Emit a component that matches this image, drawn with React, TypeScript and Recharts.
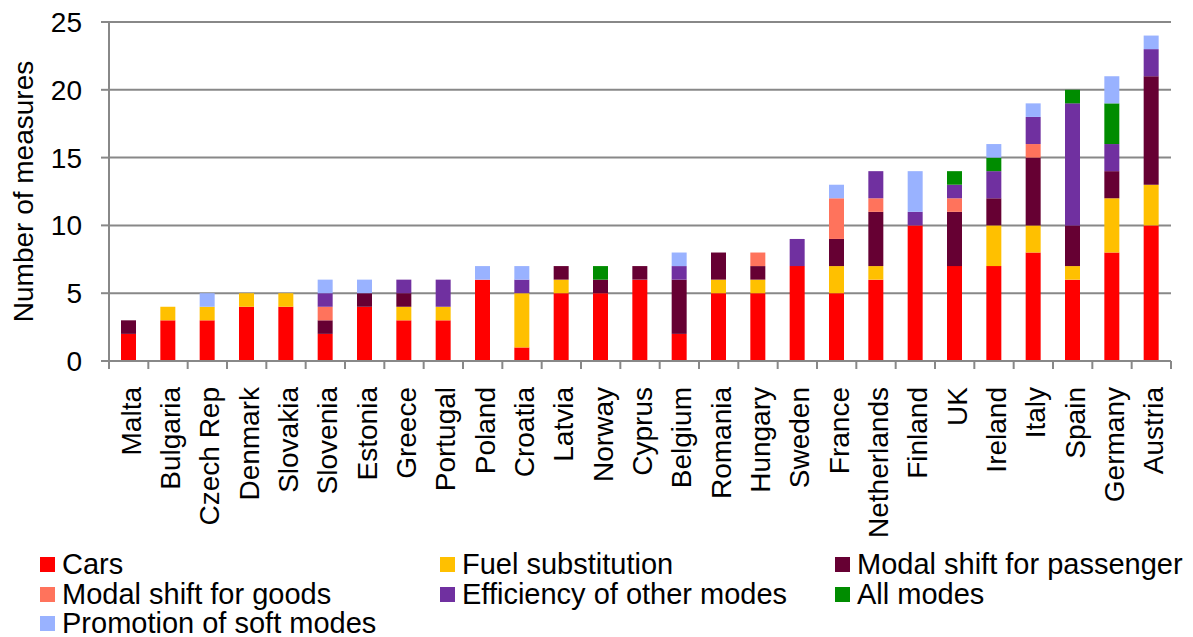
import React from 'react'
import { BarChart, Bar, XAxis, YAxis, CartesianGrid, Legend } from 'recharts'

const countries = [
  'Malta', 'Bulgaria', 'Czech Rep', 'Denmark', 'Slovakia', 'Slovenia', 'Estonia',
  'Greece', 'Portugal', 'Poland', 'Croatia', 'Latvia', 'Norway', 'Cyprus',
  'Belgium', 'Romania', 'Hungary', 'Sweden', 'France', 'Netherlands', 'Finland',
  'UK', 'Ireland', 'Italy', 'Spain', 'Germany', 'Austria',
]

const cars = [2, 3, 3, 4, 4, 2, 4, 3, 3, 6, 1, 5, 5, 6, 2, 5, 5, 7, 5, 6, 10, 7, 7, 8, 6, 8, 10]
const fuel = [0, 1, 1, 1, 1, 0, 0, 1, 1, 0, 4, 1, 0, 0, 0, 1, 1, 0, 2, 1, 0, 0, 3, 2, 1, 4, 3]
const passenger = [1, 0, 0, 0, 0, 1, 1, 1, 0, 0, 0, 1, 1, 1, 4, 2, 1, 0, 2, 4, 0, 4, 2, 5, 3, 2, 8]
const goods = [0, 0, 0, 0, 0, 1, 0, 0, 0, 0, 0, 0, 0, 0, 0, 0, 1, 0, 3, 1, 0, 1, 0, 1, 0, 0, 0]
const efficiency = [0, 0, 0, 0, 0, 1, 0, 1, 2, 0, 1, 0, 0, 0, 1, 0, 0, 2, 0, 2, 1, 1, 2, 2, 9, 2, 2]
const allModes = [0, 0, 0, 0, 0, 0, 0, 0, 0, 0, 0, 0, 1, 0, 0, 0, 0, 0, 0, 0, 0, 1, 1, 0, 1, 3, 0]
const soft = [0, 0, 1, 0, 0, 1, 1, 0, 0, 1, 1, 0, 0, 0, 1, 0, 0, 0, 1, 0, 3, 0, 1, 1, 0, 2, 1]

const yTicks = [0, 5, 10, 15, 20, 25]

const series = [
  { key: 'cars', name: 'Cars', values: cars, color: '#FF0000' },
  { key: 'fuel', name: 'Fuel substitution', values: fuel, color: '#FFC000' },
  { key: 'passenger', name: 'Modal shift for passenger', values: passenger, color: '#660033' },
  { key: 'goods', name: 'Modal shift for goods', values: goods, color: '#FF735C' },
  { key: 'efficiency', name: 'Efficiency of other modes', values: efficiency, color: '#7030A0' },
  { key: 'allModes', name: 'All modes', values: allModes, color: '#008C00' },
  { key: 'soft', name: 'Promotion of soft modes', values: soft, color: '#99B2FF' },
]

const data = countries.map((country, i) => {
  const row: Record<string, string | number> = { country }
  series.forEach(s => {
    row[s.key] = s.values[i]
  })
  return row
})

const W = 1193
const H = 637
const FONT = '"Liberation Sans", Arial, sans-serif'
const AXIS = '#888888'
const Y_AXIS_W = 109
const RIGHT = 22
const BAND = (W - Y_AXIS_W - RIGHT) / countries.length

const CountryTick = (props: any) => {
  const { x, y, payload, index } = props
  const last = index === countries.length - 1
  return (
    <g>
      <line x1={x - BAND / 2} x2={x - BAND / 2} y1={y} y2={y + 8} stroke={AXIS} strokeWidth={2} />
      {last && <line x1={x + BAND / 2} x2={x + BAND / 2} y1={y} y2={y + 8} stroke={AXIS} strokeWidth={2} />}
      <text
        transform={`translate(${x + 12},${y + 26}) rotate(-90)`}
        textAnchor="end"
        fontSize={28}
        fontFamily={FONT}
        fill="#000"
      >
        {payload.value}
      </text>
    </g>
  )
}

const LegendBox = () => (
  <div
    style={{
      height: 87,
      display: 'grid',
      gridTemplateColumns: '400px 395px 350px',
      paddingLeft: 40,
      fontFamily: FONT,
      fontSize: 29,
      lineHeight: '29.5px',
      color: '#000',
      boxSizing: 'border-box',
    }}
  >
    {series.map(s => (
      <div key={s.key} style={{ display: 'flex', alignItems: 'center', whiteSpace: 'nowrap' }}>
        <span style={{ display: 'inline-block', width: 15, height: 15, background: s.color, marginRight: 7 }} />
        <span>{s.name}</span>
      </div>
    ))}
  </div>
)

const App = () => {
  return (
    <div style={{ position: 'absolute', left: 0, top: 0, width: W, height: H, background: '#fff' }}>
      <BarChart
        width={W}
        height={H}
        data={data}
        margin={{ top: 22, right: RIGHT, left: 0, bottom: 0 }}
        barSize={15}
      >
        <CartesianGrid vertical={false} stroke={AXIS} strokeWidth={2} />
        <XAxis
          dataKey="country"
          interval={0}
          height={189}
          tickSize={0}
          tickMargin={0}
          tickLine={false}
          axisLine={{ stroke: AXIS, strokeWidth: 2 }}
          tick={<CountryTick />}
        />
        <YAxis
          width={Y_AXIS_W}
          domain={[0, 25]}
          ticks={yTicks}
          interval={0}
          tickSize={8}
          tickMargin={19}
          axisLine={{ stroke: AXIS, strokeWidth: 2 }}
          tickLine={{ stroke: AXIS, strokeWidth: 2 }}
          tick={{ fontSize: 28, fontFamily: FONT, fill: '#000' }}
          label={{
            content: (p: any) => {
              const vb = p.viewBox || {}
              const cy = (vb.y ?? 22) + (vb.height ?? 339) / 2
              return (
                <text
                  x={33}
                  y={cy}
                  transform={`rotate(-90, 33, ${cy})`}
                  textAnchor="middle"
                  fontSize={28}
                  fontFamily={FONT}
                  fill="#000"
                >
                  Number of measures
                </text>
              )
            },
          }}
        />
        <Legend verticalAlign="bottom" wrapperStyle={{ left: 0, width: W }} content={<LegendBox />} />
        {series.map(s => (
          <Bar
            key={s.key}
            dataKey={s.key}
            name={s.name}
            stackId="a"
            fill={s.color}
            isAnimationActive={false}
          />
        ))}
      </BarChart>
    </div>
  )
}

export default App
